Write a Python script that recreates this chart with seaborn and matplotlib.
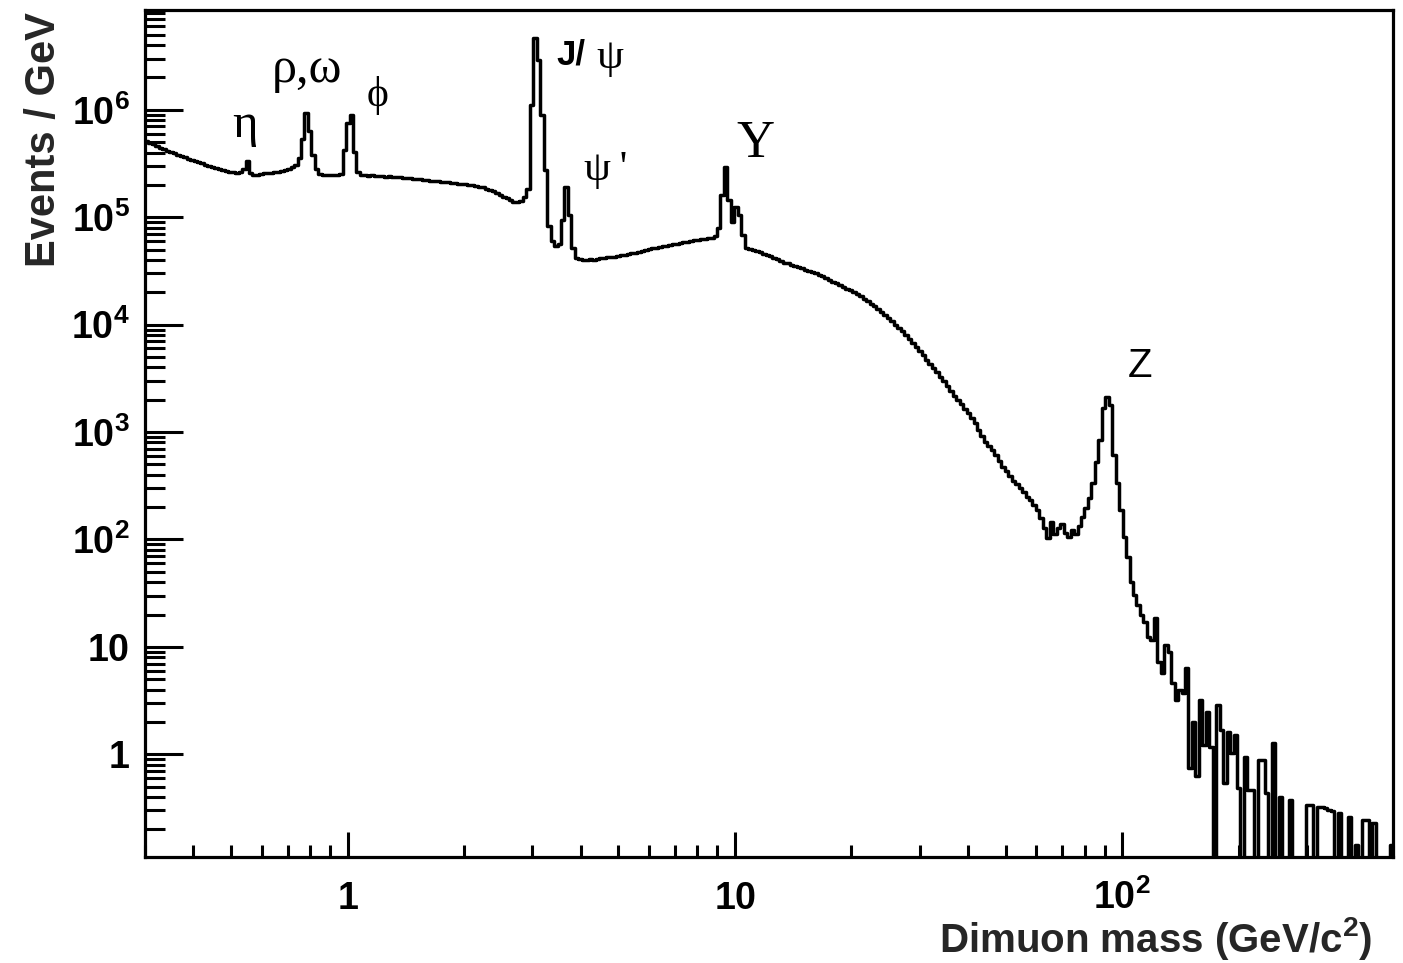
import numpy as np
import pandas as pd
import matplotlib
matplotlib.use("Agg")
import matplotlib.pyplot as plt
from matplotlib.ticker import FixedLocator, FixedFormatter, LogLocator, NullFormatter
import seaborn as sns

# ---------------------------------------------------------------------------
# Binning: log-spaced bins over the dimuon mass range (GeV/c^2)
# ---------------------------------------------------------------------------
mass_min, mass_max, n_bins = 0.3, 500.0, 360

# ---------------------------------------------------------------------------
# Events / GeV in each bin, grouped by mass region
# ---------------------------------------------------------------------------
# 0.3 - 1.1 GeV : eta, rho/omega, phi
low_mass_events = [
    5.13e5, 4.92e5, 4.76e5, 4.61e5, 4.42e5, 4.32e5, 4.14e5, 4.05e5, 3.93e5, 3.80e5,
    3.72e5, 3.60e5, 3.49e5, 3.42e5, 3.34e5, 3.24e5, 3.17e5, 3.07e5, 3.01e5, 2.94e5,
    2.88e5, 2.79e5, 2.76e5, 2.70e5, 2.64e5, 2.61e5, 2.59e5, 2.61e5, 2.82e5, 3.34e5,
    2.56e5, 2.45e5, 2.50e5, 2.53e5, 2.56e5, 2.56e5, 2.59e5, 2.61e5, 2.64e5, 2.70e5,
    2.76e5, 2.82e5, 2.91e5, 3.07e5, 3.56e5, 5.40e5, 9.36e5, 6.30e5, 3.80e5, 2.80e5,
    2.53e5, 2.48e5, 2.45e5, 2.45e5, 2.48e5, 2.45e5, 2.52e5, 4.24e5, 7.50e5, 8.96e5,
    4.05e5, 2.64e5, 2.48e5,
]
# 1.1 - 2.9 GeV : continuum below the J/psi
continuum_events = [
    2.45e5, 2.43e5, 2.45e5, 2.43e5, 2.40e5, 2.43e5, 2.38e5, 2.40e5, 2.38e5, 2.35e5,
    2.38e5, 2.32e5, 2.32e5, 2.30e5, 2.27e5, 2.27e5, 2.25e5, 2.23e5, 2.20e5, 2.18e5,
    2.18e5, 2.16e5, 2.13e5, 2.13e5, 2.11e5, 2.09e5, 2.09e5, 2.06e5, 2.04e5, 2.02e5,
    2.00e5, 1.98e5, 1.96e5, 1.92e5, 1.90e5, 1.85e5, 1.80e5, 1.74e5, 1.68e5, 1.61e5,
    1.55e5, 1.50e5, 1.45e5, 1.40e5, 1.39e5, 1.42e5, 1.55e5,
]
# 2.9 - 4.0 GeV : J/psi and psi(2S)
charmonium_events = [
    1.85e5, 1.11e6, 4.67e6, 2.92e6, 8.96e5, 2.76e5, 8.30e4, 6.00e4, 5.40e4, 5.64e4,
    9.44e4, 1.92e5, 1.05e5, 5.18e4,
]
# 4.0 - 9.0 GeV
intermediate_events = [
    4.18e4, 4.09e4, 3.98e4, 4.00e4, 4.05e4, 4.00e4, 4.09e4, 4.16e4, 4.18e4, 4.23e4,
    4.27e4, 4.25e4, 4.36e4, 4.41e4, 4.46e4, 4.55e4, 4.60e4, 4.65e4, 4.75e4, 4.86e4,
    4.96e4, 5.01e4, 5.13e4, 5.18e4, 5.29e4, 5.35e4, 5.41e4, 5.52e4, 5.58e4, 5.64e4,
    5.77e4, 5.82e4, 5.89e4, 6.02e4, 6.08e4, 6.15e4, 6.21e4, 6.28e4, 6.35e4, 6.41e4,
]
# 9.0 - 11 GeV : Upsilon(1S, 2S, 3S)
upsilon_events = [
    6.71e4, 7.96e4, 1.61e5, 2.94e5, 1.45e5, 9.06e4, 1.25e5, 1.05e5, 6.85e4, 5.18e4,
]
# 11 - 60 GeV : Drell-Yan continuum
drell_yan_events = [
    5.07e4, 4.96e4, 4.86e4, 4.70e4, 4.55e4, 4.46e4, 4.32e4, 4.18e4, 4.05e4, 3.92e4,
    3.79e4, 3.72e4, 3.60e4, 3.52e4, 3.41e4, 3.34e4, 3.23e4, 3.16e4, 3.10e4, 3.03e4,
    2.93e4, 2.81e4, 2.72e4, 2.61e4, 2.50e4, 2.42e4, 2.32e4, 2.24e4, 2.15e4, 2.08e4,
    2.00e4, 1.91e4, 1.83e4, 1.75e4, 1.66e4, 1.56e4, 1.48e4, 1.40e4, 1.31e4, 1.23e4,
    1.15e4, 1.08e4, 1.00e4, 9.31e3, 8.65e3, 7.93e3, 7.36e3, 6.76e3, 6.20e3, 5.69e3,
    5.17e3, 4.69e3, 4.31e3, 3.95e3, 3.59e3, 3.26e3, 2.96e3, 2.69e3, 2.41e3, 2.17e3,
    1.99e3, 1.81e3, 1.64e3, 1.51e3, 1.35e3, 1.22e3, 1.05e3, 920, 809, 743,
    681, 612, 538, 473, 434, 390, 351, 329, 302, 277,
    249, 233, 210, 188, 159, 128,
]
# 60 - 110 GeV : Z boson
z_events = [
    103, 146, 112, 128, 140, 115, 105, 122, 112, 134,
    162, 196, 243, 336, 527, 844, 1.67e3, 2.12e3, 1.79e3, 612,
    336, 188, 105, 68.7, 40.2,
]
# 110 - 500 GeV : high-mass tail
tail_events = [
    30.4, 24.5, 19.8, 17.1, 12.4, 11.6, 18.6, 7.23, 5.71, 10.4,
    8.97, 4.61, 3.20, 3.96, 3.72, 6.37, 0.745, 2.00, 0.628, 3.20,
    1.22, 2.47, 1.17, 0, 2.88, 1.68, 0.541, 1.61, 1.03, 1.51,
    0.485, 0, 0.944, 0.465, 0.465, 0, 0.885, 0.885, 0.436, 0,
    1.27, 0, 0.400, 0, 0, 0.375, 0, 0, 0, 0,
    0.337, 0.337, 0, 0.323, 0.323, 0.316, 0.303, 0.296, 0, 0.284,
    0, 0, 0.261, 0, 0.143, 0, 0.244, 0.244, 0, 0.229,
    0, 0, 0, 0, 0.143,
]

# Axis ticks and their labels
x_ticks = [1, 10, 100]
x_tick_labels = [r"$\mathbf{1}$", r"$\mathbf{10}$", r"$\mathbf{10}^{\mathbf{2}}$"]
y_ticks = [1, 10, 1e2, 1e3, 1e4, 1e5, 1e6]
y_tick_labels = [r"$\mathbf{1}$", r"$\mathbf{10}$"] + [
    r"$\mathbf{10}^{\mathbf{%d}}$" % p for p in range(2, 7)
]

# Resonance labels: text, anchor (mass, events/GeV), font family, size, weight
peak_names = ["η", "ρ,ω", "ϕ", "J/", "ψ", "ψ\u2009'", "Υ", "Z"]
peak_mass = [0.503, 0.639, 1.118, 3.465, 4.38, 4.09, 10.1, 103.2]
peak_level = [5.6e5, 1.82e6, 1.09e6, 2.67e6, 2.45e6, 2.22e5, 3.64e5, 3.26e3]
serif = ["Liberation Serif", "DejaVu Serif"]
sans = ["Liberation Sans", "DejaVu Sans"]
peak_family = [serif, serif, serif, sans, serif, serif, serif, sans]
peak_size = [35, 36, 30, 25, 31, 31, 38, 29]
peak_weight = ["normal", "normal", "normal", "bold", "normal", "normal",
               "normal", "normal"]

# ---------------------------------------------------------------------------
edges = np.logspace(np.log10(mass_min), np.log10(mass_max), n_bins + 1)
centers = np.sqrt(edges[:-1] * edges[1:])
events = np.concatenate([
    low_mass_events, continuum_events, charmonium_events, intermediate_events,
    upsilon_events, drell_yan_events, z_events, tail_events,
]).astype(float)
df = pd.DataFrame({"mass": centers, "events": events})

sns.set_theme(style="ticks")
plt.rcParams["font.family"] = ["Liberation Sans", "DejaVu Sans"]
plt.rcParams["mathtext.fontset"] = "custom"
plt.rcParams["mathtext.rm"] = "Liberation Sans"
plt.rcParams["mathtext.bf"] = "Liberation Sans:bold"
plt.rcParams["mathtext.it"] = "Liberation Sans:italic"

fig = plt.figure(figsize=(14.03, 9.63), dpi=100)
ax = fig.add_axes([0.10335, 0.11038, 0.88952, 0.87924])

sns.histplot(data=df, x="mass", weights="events", bins=edges.tolist(),
             element="step", fill=False, color="black", linewidth=2.5, ax=ax)

ax.set_xscale("log")
ax.set_yscale("log")
ax.set_xlim(mass_min, mass_max)
ax.set_ylim(0.1114, 8.5e6)

ax.xaxis.set_major_locator(FixedLocator(x_ticks))
ax.xaxis.set_major_formatter(FixedFormatter(x_tick_labels))
ax.xaxis.set_minor_locator(LogLocator(base=10, subs=np.arange(2, 10), numticks=100))
ax.xaxis.set_minor_formatter(NullFormatter())
ax.yaxis.set_major_locator(FixedLocator(y_ticks))
ax.yaxis.set_major_formatter(FixedFormatter(y_tick_labels))
ax.yaxis.set_minor_locator(LogLocator(base=10, subs=np.arange(2, 10), numticks=100))
ax.yaxis.set_minor_formatter(NullFormatter())

ax.tick_params(which="both", direction="in", top=False, right=False,
               width=2.2, color="black", labelcolor="black")
ax.tick_params(axis="y", which="major", length=27, labelsize=27, pad=11)
ax.tick_params(axis="y", which="minor", length=14.4)
ax.tick_params(axis="x", which="major", length=18, labelsize=27, pad=38)
ax.tick_params(axis="x", which="minor", length=8.6)
for t in ax.xaxis.get_major_ticks():
    t.label1.set_verticalalignment("baseline")

for side in ["left", "bottom", "top", "right"]:
    ax.spines[side].set_visible(True)
    ax.spines[side].set_linewidth(2.3)
    ax.spines[side].set_color("black")

ax.set_xlabel(r"Dimuon mass (GeV/c$^{\mathbf{2}}$)", fontsize=29,
              fontweight="bold", loc="right")
ax.xaxis.label.set_verticalalignment("baseline")
ax.xaxis.set_label_coords(0.9835, -0.1125)
ax.set_ylabel("Events / GeV", fontsize=30, fontweight="bold", loc="top")
ax.yaxis.set_label_coords(-0.065, 0.997)

for name, m, v, fam, size, wt in zip(peak_names, peak_mass, peak_level,
                                     peak_family, peak_size, peak_weight):
    ax.text(m, v, name, family=fam, fontsize=size, fontweight=wt,
            ha="left", va="baseline", color="black")

ax.grid(False)
fig.savefig("out.png", dpi=100, facecolor="white")
